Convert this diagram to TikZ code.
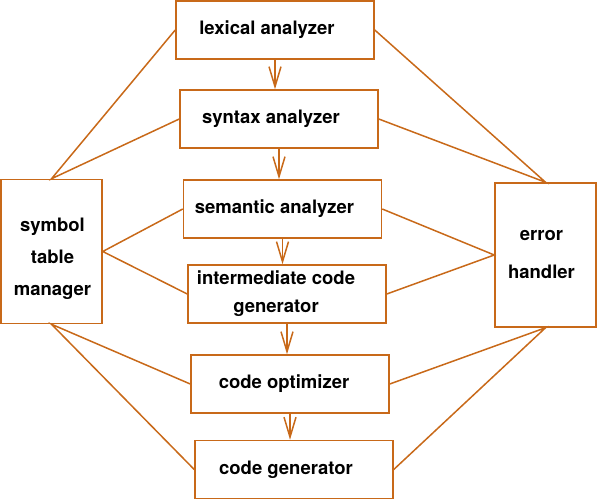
\documentclass[tikz,border=0pt]{standalone}
\usepackage{fontspec}
\setmainfont{TeX Gyre Heros}
\usetikzlibrary{arrows.meta}
\definecolor{phase}{RGB}{200,105,25}
\tikzset{>={Straight Barb[length=20pt,width=12pt]}}

\begin{document}
\begin{tikzpicture}[x=1pt,y=-1pt,
    box/.style={draw=phase, line width=1.5pt, inner sep=0pt},
    phasebox/.style={box, minimum width=198pt, minimum height=58pt},
    sidebox/.style={box, minimum width=101pt, minimum height=144pt},
    txt/.style={align=center, xshift=-8pt,
      font=\fontsize{18.5}{22}\selectfont\bfseries},
    link/.style={draw=phase, line width=1.5pt}]
  \useasboundingbox (0,0) rectangle (597,500);

  %% phases
  \node[phasebox, label={[txt]center:lexical analyzer}] (lex) at (275,30) {};
  \node[phasebox, label={[txt]center:syntax analyzer}] (syn) at (279,119) {};
  \node[phasebox, label={[txt]center:semantic analyzer}] (sem) at (282.5,209) {};
  \node[phasebox, label={[txt,xshift=-3pt]center:intermediate code\\[6pt]generator}] (icg) at (287,294) {};
  \node[phasebox, label={[txt,xshift=2pt]center:code optimizer}] (opt) at (290,384) {};
  \node[phasebox, label={[txt]center:code generator}] (cg) at (294,469.5) {};

  %% side boxes
  \node[sidebox, label={[txt,xshift=9pt,yshift=-7pt]center:symbol\\[10pt]table\\[10pt]manager}] (sym) at (51.5,251.5) {};
  \node[sidebox, label={[txt,xshift=4pt]center:error\\[16pt]handler}] (err) at (545.5,255) {};

  %% flow
  \draw[link,->] (lex.south) -- (lex.south |- syn.north);
  \draw[link,->] (syn.south) -- (syn.south |- sem.north);
  \draw[link,->] (sem.south) -- (sem.south |- icg.north);
  \draw[link,->] (icg.south) -- (icg.south |- opt.north);
  \draw[link,->] (opt.south) -- (opt.south |- cg.north);

  %% symbol table
  \draw[link] (lex.west) -- (sym.north) -- (syn.west);
  \draw[link] (sem.west) -- (sym.east) -- (icg.west);
  \draw[link] (opt.west) -- (sym.south) -- (cg.west);

  %% error handler
  \draw[link] (lex.east) -- (err.north) -- (syn.east);
  \draw[link] (sem.east) -- (err.west) -- (icg.east);
  \draw[link] (opt.east) -- (err.south) -- (cg.east);
\end{tikzpicture}
\end{document}
